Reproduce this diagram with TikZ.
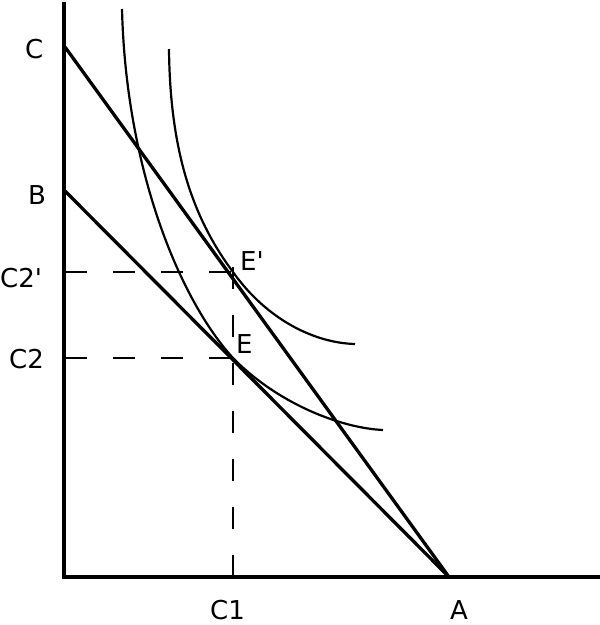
\documentclass[tikz,border=0pt]{standalone}
\usepackage{fontspec}
\setmainfont{DejaVu Sans}[Ligatures=TeXOff]
\begin{document}
\begin{tikzpicture}[x=1pt,y=-1pt,
  axis/.style={line width=4pt},
  budget/.style={line width=3.3pt},
  indiff/.style={line width=2.2pt},
  guide/.style={line width=2.2pt,dash pattern=on 22pt off 26pt},
  lbl/.style={inner sep=0pt,anchor=base west,font=\fontsize{26}{26}\selectfont}]
\useasboundingbox (0,0) rectangle (600,625);
% axes
\coordinate (O) at (64,577);
\coordinate (Ytop) at (64,2);
\coordinate (Xend) at (600,577);
\draw[axis] (Ytop) -- (O) -- (Xend);
% points
\coordinate (Cp) at (65,47);
\coordinate (Bp) at (65,191);
\coordinate (Ap) at (449,577);
\coordinate (Ep) at (233,272);
\coordinate (E) at (233,358);
\coordinate (C2py) at (65,272);
\coordinate (C2y) at (65,358);
\coordinate (C1x) at (233,577);
% budget lines
\draw[budget] (Cp) -- (Ap);
\draw[budget] (Bp) -- (Ap);
% guides
\draw[guide] (C2py) -- (Ep);
\draw[guide] (C2y) -- (E);
\draw[guide] ([yshift=5pt]Ep) -- (C1x);
% indifference curves
\coordinate (I1top) at (122,9);
\coordinate (I1end) at (383,430);
\draw[indiff] (I1top) .. controls (126,170) and (180,300) .. (E)
  .. controls (277,403) and (340,428) .. (I1end);
\coordinate (I2top) at (169,49);
\coordinate (I2end) at (355,344);
\draw[indiff] (I2top) .. controls (170,150) and (192,217) .. (Ep)
  .. controls (267,320) and (315,343) .. (I2end);
% labels
\node[lbl] (lC) at (25,58) {C};
\node[lbl] (lB) at (28,204) {B};
\node[lbl] (lC2p) at (0,287) {C2'};
\node[lbl] (lC2) at (9,368) {C2};
\node[lbl] (lEp) at (240,270) {E'};
\node[lbl] (lE) at (236,353) {E};
\node[lbl] (lC1) at (210,619) {C1};
\node[lbl] (lA) at (450,619) {A};
\end{tikzpicture}
\end{document}
